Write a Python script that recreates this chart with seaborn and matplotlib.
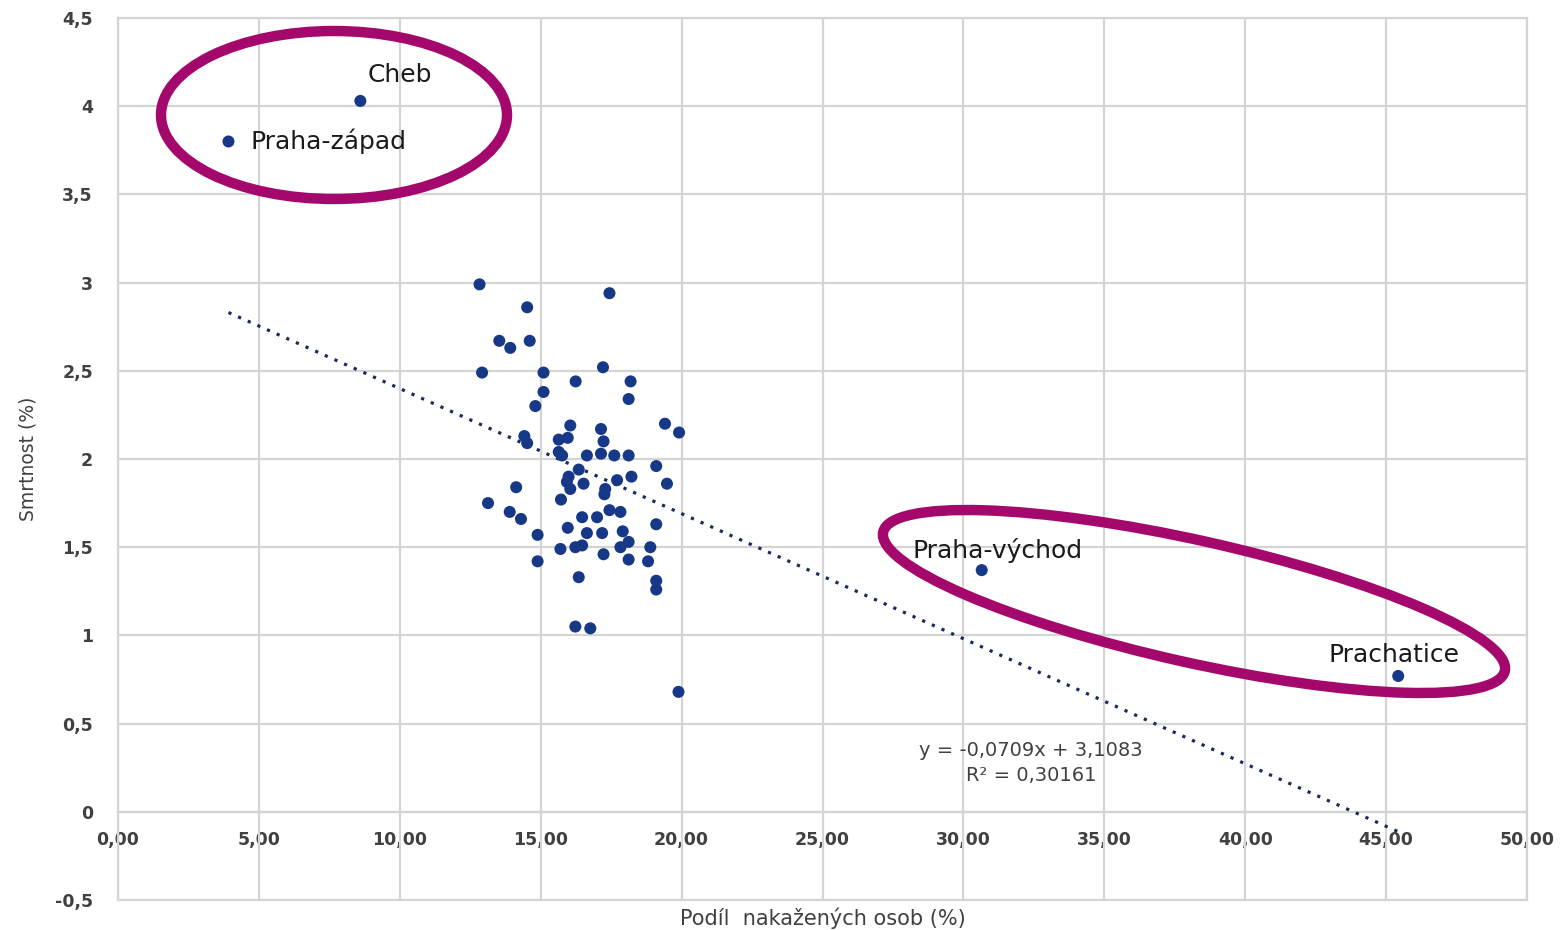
import matplotlib
matplotlib.use("Agg")
import matplotlib.pyplot as plt
from matplotlib.patches import Ellipse
from matplotlib.ticker import FuncFormatter, MultipleLocator
import seaborn as sns
import pandas as pd
import numpy as np

# podíl nakažených osob (%) a smrtnost (%) po okresech
podil = [12.83, 17.44, 14.52, 13.53, 13.92, 14.61, 12.92, 15.10, 17.21, 16.24,
         18.19, 15.10, 18.12, 14.81, 19.41, 19.91, 16.05, 17.14, 17.23, 14.42,
         14.52, 15.64, 15.96, 15.64, 15.76, 16.64, 17.14, 17.61, 18.12, 19.10,
         16.35, 15.99, 15.93, 16.52, 16.05, 17.71, 18.22, 19.48, 17.29, 17.26,
         14.13, 13.13, 15.72, 13.90, 14.30, 17.44, 17.83, 16.47, 17.00, 19.10,
         14.89, 15.96, 16.64, 17.18, 17.91, 18.12, 17.83, 15.70, 16.23, 16.47,
         18.89, 17.23, 18.12, 18.81, 14.89, 16.35, 19.10, 19.10, 16.23, 16.76,
         19.89]
smrtnost = [2.99, 2.94, 2.86, 2.67, 2.63, 2.67, 2.49, 2.49, 2.52, 2.44,
            2.44, 2.38, 2.34, 2.30, 2.20, 2.15, 2.19, 2.17, 2.10, 2.13,
            2.09, 2.11, 2.12, 2.04, 2.02, 2.02, 2.03, 2.02, 2.02, 1.96,
            1.94, 1.90, 1.87, 1.86, 1.83, 1.88, 1.90, 1.86, 1.83, 1.80,
            1.84, 1.75, 1.77, 1.70, 1.66, 1.71, 1.70, 1.67, 1.67, 1.63,
            1.57, 1.61, 1.58, 1.58, 1.59, 1.53, 1.50, 1.49, 1.50, 1.51,
            1.50, 1.46, 1.43, 1.42, 1.42, 1.33, 1.31, 1.26, 1.05, 1.04,
            0.68]

# pojmenované odlehlé okresy
okresy = ["Cheb", "Praha-západ", "Praha-východ", "Prachatice"]
okresy_podil = [8.60, 3.92, 30.65, 45.43]
okresy_smrtnost = [4.03, 3.80, 1.37, 0.77]
okresy_offset = [(5, 19), (16, 0), (-50, 14), (-50, 15)]

# lineární trend (jak je uveden v grafu)
sklon = -0.0709
posun = 3.1083
r2 = 0.30161

x_ticks = [0, 5, 10, 15, 20, 25, 30, 35, 40, 45, 50]
y_ticks = [-0.5, 0, 0.5, 1, 1.5, 2, 2.5, 3, 3.5, 4, 4.5]

df = pd.DataFrame({"podil": podil + okresy_podil,
                   "smrtnost": smrtnost + okresy_smrtnost})

sns.set_style("white")
plt.rcParams["font.family"] = ["DejaVu Sans"]

fig = plt.figure(figsize=(15.6, 9.3), dpi=100)
ax = fig.add_axes([118 / 1560, 1 - 900 / 930, 1409 / 1560, 882 / 930])

grid_col = "#d4d4d4"
bod_col = "#163887"

ax.set_xlim(0, 50)
ax.set_ylim(-0.5, 4.5)
ax.xaxis.set_major_locator(MultipleLocator(5))
ax.yaxis.set_major_locator(MultipleLocator(0.5))
ax.grid(True, color=grid_col, linewidth=1.6)
ax.set_axisbelow(True)
for s in ax.spines.values():
    s.set_color(grid_col)
    s.set_linewidth(1.6)

# trend
tx = np.array([df["podil"].min(), df["podil"].max()])
sns.lineplot(x=tx, y=sklon * tx + posun, ax=ax, color="#1b2a5c",
             linewidth=2.3, linestyle=(0, (1, 2.3)), zorder=2)

sns.scatterplot(data=df, x="podil", y="smrtnost", ax=ax, color=bod_col,
                s=75, edgecolor="none", zorder=3)

for name, xv, yv, off in zip(okresy, okresy_podil, okresy_smrtnost, okresy_offset):
    ax.annotate(name, (xv, yv), xytext=off, textcoords="offset points",
                ha="left", va="center", fontsize=18, color="#1a1a1a")

ax.text(32.4, 0.35, f"y = {sklon:.4f}x + {posun:.4f}".replace(".", ","),
        ha="center", va="center", fontsize=14, color="#404040")
ax.text(32.4, 0.205, f"R² = {r2:.5f}".replace(".", ","),
        ha="center", va="center", fontsize=14, color="#404040")

# osy: popisky x na úrovni y = 0
ax.set_yticks(y_ticks)
ax.yaxis.set_major_formatter(FuncFormatter(lambda v, p: f"{v:g}".replace(".", ",")))
ax.tick_params(axis="y", length=0, pad=18, labelsize=12.5, labelcolor="#404040")
for t in ax.get_yticklabels():
    t.set_fontweight("bold")
ax.set_xticks(x_ticks)
ax.tick_params(axis="x", length=0, labelbottom=False)

sec = ax.secondary_xaxis(0.1)
sec.set_xticks(x_ticks)
sec.xaxis.set_major_formatter(FuncFormatter(lambda v, p: f"{v:.2f}".replace(".", ",")))
sec.tick_params(length=0, pad=14, labelsize=12.5, labelcolor="#404040")
for t in sec.get_xticklabels():
    t.set_fontweight("bold")
sec.spines["bottom"].set_color(grid_col)
sec.spines["bottom"].set_linewidth(1.6)

ax.set_xlabel("Podíl  nakažených osob (%)", fontsize=15, color="#404040")
ax.xaxis.set_label_coords(0.5, -0.021)
ax.xaxis.label.set_va("center")
ax.set_ylabel("Smrtnost (%)", fontsize=13.5, color="#404040")
ax.yaxis.set_label_coords(-0.064, 0.5)
ax.yaxis.label.set_va("center")

# zvýraznění odlehlých okresů
elips_col = "#a5086c"
fig.add_artist(Ellipse((3.34, 8.15), 3.46, 1.68, angle=0, fill=False,
                       edgecolor=elips_col, linewidth=7.5,
                       transform=fig.dpi_scale_trans, zorder=5))
fig.add_artist(Ellipse((11.94, 3.285), 6.37, 1.22, angle=-12.6, fill=False,
                       edgecolor=elips_col, linewidth=7.5,
                       transform=fig.dpi_scale_trans, zorder=5))

fig.savefig("out.png", dpi=100)
